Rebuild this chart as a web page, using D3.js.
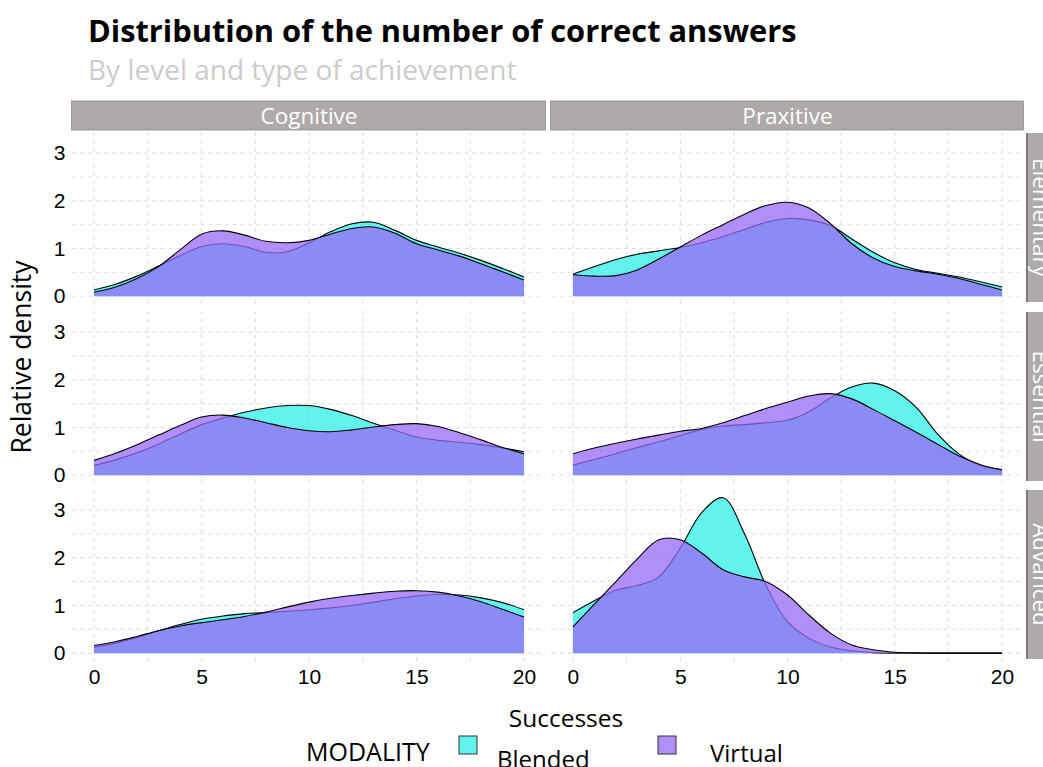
<!DOCTYPE html>
<html>
<head>
<meta charset="utf-8">
<script src="https://cdn.jsdelivr.net/npm/d3@7"></script>
<style>
body { margin: 0; background: #fff; }
svg { display: block; }
</style>
</head>
<body>
<svg id="chart" width="1043" height="767"></svg>
<script>
var types = ["Cognitive", "Praxitive"];
var levels = ["Elementary", "Essential", "Advanced"];
var modalities = ["Blended", "Virtual"];
var successes = [0, 1, 2, 3, 4, 5, 6, 7, 8, 9, 10, 11, 12, 13, 14, 15, 16, 17, 18, 19, 20];

// relative density, one value per number of successes
var cognitiveElementaryBlended = [0.13, 0.25, 0.42, 0.63, 0.85, 1.04, 1.10, 1.04, 0.92, 0.93, 1.12, 1.35, 1.52, 1.55, 1.38, 1.17, 1.03, 0.90, 0.75, 0.58, 0.40];
var cognitiveElementaryVirtual = [0.08, 0.19, 0.37, 0.62, 0.97, 1.30, 1.37, 1.28, 1.15, 1.12, 1.17, 1.30, 1.42, 1.45, 1.32, 1.10, 0.97, 0.84, 0.68, 0.51, 0.34];
var praxitiveElementaryBlended = [0.46, 0.62, 0.77, 0.88, 0.95, 1.02, 1.12, 1.25, 1.40, 1.55, 1.63, 1.60, 1.48, 1.20, 0.92, 0.70, 0.56, 0.48, 0.40, 0.30, 0.19];
var praxitiveElementaryVirtual = [0.45, 0.42, 0.43, 0.55, 0.78, 1.03, 1.28, 1.50, 1.72, 1.90, 1.97, 1.85, 1.52, 1.10, 0.80, 0.62, 0.53, 0.46, 0.37, 0.25, 0.13];
var cognitiveEssentialBlended = [0.20, 0.32, 0.47, 0.65, 0.86, 1.06, 1.20, 1.32, 1.41, 1.46, 1.46, 1.38, 1.25, 1.09, 0.94, 0.80, 0.73, 0.69, 0.64, 0.57, 0.49];
var cognitiveEssentialVirtual = [0.31, 0.46, 0.64, 0.84, 1.04, 1.22, 1.26, 1.20, 1.10, 1.00, 0.93, 0.91, 0.95, 1.01, 1.06, 1.08, 1.02, 0.89, 0.74, 0.58, 0.45];
var praxitiveEssentialBlended = [0.21, 0.33, 0.45, 0.58, 0.70, 0.83, 0.96, 1.03, 1.06, 1.10, 1.15, 1.33, 1.62, 1.85, 1.93, 1.77, 1.42, 0.86, 0.44, 0.20, 0.11];
var praxitiveEssentialVirtual = [0.45, 0.57, 0.67, 0.76, 0.84, 0.92, 0.98, 1.10, 1.25, 1.40, 1.53, 1.66, 1.71, 1.60, 1.38, 1.14, 0.90, 0.65, 0.40, 0.22, 0.11];
var cognitiveAdvancedBlended = [0.12, 0.21, 0.33, 0.47, 0.60, 0.71, 0.78, 0.83, 0.85, 0.88, 0.91, 0.95, 1.00, 1.07, 1.14, 1.20, 1.23, 1.22, 1.16, 1.06, 0.91];
var cognitiveAdvancedVirtual = [0.16, 0.24, 0.35, 0.47, 0.57, 0.64, 0.70, 0.77, 0.86, 0.97, 1.07, 1.15, 1.21, 1.26, 1.30, 1.31, 1.28, 1.20, 1.08, 0.92, 0.76];
var praxitiveAdvancedBlended = [0.85, 1.10, 1.32, 1.42, 1.60, 2.20, 2.95, 3.26, 2.50, 1.42, 0.66, 0.31, 0.13, 0.05, 0.01, 0, 0, 0, 0, 0, 0];
var praxitiveAdvancedVirtual = [0.55, 1.03, 1.50, 1.98, 2.38, 2.38, 2.10, 1.75, 1.60, 1.50, 1.22, 0.80, 0.42, 0.17, 0.07, 0.02, 0.005, 0, 0, 0, 0];

var xMajor = [0, 5, 10, 15, 20];
var xMinor = [2.5, 7.5, 12.5, 17.5];
var yMajor = [0, 1, 2, 3];
var yMinor = [0.5, 1.5, 2.5];

var panelData = {
    "Cognitive|Elementary": [cognitiveElementaryBlended, cognitiveElementaryVirtual],
    "Praxitive|Elementary": [praxitiveElementaryBlended, praxitiveElementaryVirtual],
    "Cognitive|Essential": [cognitiveEssentialBlended, cognitiveEssentialVirtual],
    "Praxitive|Essential": [praxitiveEssentialBlended, praxitiveEssentialVirtual],
    "Cognitive|Advanced": [cognitiveAdvancedBlended, cognitiveAdvancedVirtual],
    "Praxitive|Advanced": [praxitiveAdvancedBlended, praxitiveAdvancedVirtual]
};

var fills = { "Blended": "#2fefe7", "Virtual": "#9868f7" };
var fillAlpha = 0.75;
var textFont = "'Open Sans', sans-serif";
var tickFont = "'Liberation Sans', Arial, sans-serif";

var svg = d3.select("#chart");

var colRanges = [[72.5, 545.5], [551.5, 1023.5]];
var rowRanges = [[304, 131], [483, 310], [661, 488]];

var xScales = colRanges.map(function (r) {
    return d3.scaleLinear().domain([-1, 21]).range(r);
});
var yScales = rowRanges.map(function (r) {
    return d3.scaleLinear().domain([-0.165, 3.465]).range(r);
});

// titles
svg.append("text")
    .attr("x", 88).attr("y", 42)
    .style("font-family", textFont)
    .attr("font-weight", "bold")
    .attr("font-size", 30.8)
    .attr("fill", "#000")
    .text("Distribution of the number of correct answers");

svg.append("text")
    .attr("x", 88).attr("y", 80)
    .style("font-family", textFont)
    .attr("font-size", 28)
    .attr("fill", "#cccccc")
    .text("By level and type of achievement");

levels.forEach(function (level, ri) {
    types.forEach(function (type, ci) {
        var x = xScales[ci], y = yScales[ri];
        var g = svg.append("g");

        // grid
        var x0 = x.range()[0], x1 = x.range()[1];
        var y0 = y.range()[0], y1 = y.range()[1];
        g.selectAll("line.vgrid")
            .data(xMajor.concat(xMinor))
            .enter().append("line")
            .attr("x1", function (d) { return x(d); })
            .attr("x2", function (d) { return x(d); })
            .attr("y1", y0).attr("y2", y1)
            .attr("stroke", "#dcdcdc")
            .attr("stroke-width", 1)
            .attr("stroke-dasharray", "4,4");
        g.selectAll("line.hgrid")
            .data(yMajor.concat(yMinor))
            .enter().append("line")
            .attr("y1", function (d) { return y(d); })
            .attr("y2", function (d) { return y(d); })
            .attr("x1", x0).attr("x2", x1)
            .attr("stroke", "#dcdcdc")
            .attr("stroke-width", 1)
            .attr("stroke-dasharray", "4,4");

        var series = panelData[type + "|" + level];

        var area = d3.area()
            .x(function (d, i) { return x(successes[i]); })
            .y0(y(0))
            .y1(function (d) { return y(Math.max(0, d)); })
            .curve(d3.curveCatmullRom.alpha(0.5));
        var line = d3.line()
            .x(function (d, i) { return x(successes[i]); })
            .y(function (d) { return y(Math.max(0, d)); })
            .curve(d3.curveCatmullRom.alpha(0.5));

        modalities.forEach(function (m, mi) {
            g.append("path")
                .datum(series[mi])
                .attr("d", area)
                .attr("fill", fills[m])
                .attr("fill-opacity", fillAlpha)
                .attr("stroke", "none");
            g.append("path")
                .datum(series[mi])
                .attr("d", line)
                .attr("fill", "none")
                .attr("stroke", "#000")
                .attr("stroke-width", 1.1);
        });

        // axes
        if (ci == 0) {
            var ya = g.append("g")
                .attr("transform", "translate(" + x0 + ",0)")
                .call(d3.axisLeft(y).tickValues(yMajor).tickFormat(d3.format("d")).tickSize(0).tickPadding(7));
            ya.select(".domain").remove();
            ya.selectAll("text")
                .style("font-family", tickFont)
                .attr("font-size", 21)
                .attr("fill", "#000");
        }
        if (ri == levels.length - 1) {
            var xa = g.append("g")
                .attr("transform", "translate(0," + y0 + ")")
                .call(d3.axisBottom(x).tickValues(xMajor).tickFormat(d3.format("d")).tickSize(0).tickPadding(8));
            xa.select(".domain").remove();
            xa.selectAll("text")
                .style("font-family", tickFont)
                .attr("font-size", 21)
                .attr("fill", "#000");
        }

        // strips
        if (ri == 0) {
            svg.append("rect")
                .attr("x", x0 - 1).attr("y", 101)
                .attr("width", x1 - x0 + 1).attr("height", 29)
                .attr("fill", "#aeaaa9")
                .attr("stroke", "#8e8a89")
                .attr("stroke-width", 0.8);
            svg.append("text")
                .attr("x", (x0 + x1) / 2).attr("y", 124)
                .attr("text-anchor", "middle")
                .style("font-family", textFont)
                .attr("font-size", 22.5)
                .attr("fill", "#fff")
                .text(type);
        }
        if (ci == types.length - 1) {
            svg.append("rect")
                .attr("x", 1027).attr("y", y1 + 2)
                .attr("width", 30).attr("height", y0 - y1 - 4)
                .attr("fill", "#aeaaa9");
            svg.append("line")
                .attr("x1", 1027).attr("x2", 1027)
                .attr("y1", y1 + 2).attr("y2", y0 - 2)
                .attr("stroke", "#7d7a79")
                .attr("stroke-width", 2);
            svg.append("text")
                .attr("transform", "translate(1033," + ((y0 + y1) / 2) + ") rotate(90)")
                .attr("text-anchor", "middle")
                .style("font-family", textFont)
                .attr("font-size", 22.5)
                .attr("fill", "#fff")
                .text(level);
        }
    });
});

// axis titles
svg.append("text")
    .attr("transform", "translate(31,357) rotate(-90)")
    .attr("text-anchor", "middle")
    .style("font-family", textFont)
    .attr("font-size", 26.5)
    .attr("fill", "#000")
    .text("Relative density");

svg.append("text")
    .attr("x", 566).attr("y", 727)
    .attr("text-anchor", "middle")
    .style("font-family", textFont)
    .attr("font-size", 24.5)
    .attr("fill", "#000")
    .text("Successes");

// legend
svg.append("text")
    .attr("x", 306).attr("y", 761)
    .style("font-family", textFont)
    .attr("font-size", 25)
    .attr("fill", "#000")
    .text("MODALITY");

var legendX = [459, 658];
var labelX = [497, 710];
var labelY = [768, 762];
modalities.forEach(function (m, i) {
    svg.append("rect")
        .attr("x", legendX[i]).attr("y", 736)
        .attr("width", 18).attr("height", 18)
        .attr("fill", fills[m])
        .attr("fill-opacity", fillAlpha)
        .attr("stroke", "#333")
        .attr("stroke-width", 1);
    svg.append("text")
        .attr("x", labelX[i]).attr("y", labelY[i])
        .style("font-family", textFont)
        .attr("font-size", 24)
        .attr("fill", "#000")
        .text(m);
});
</script>
</body>
</html>
